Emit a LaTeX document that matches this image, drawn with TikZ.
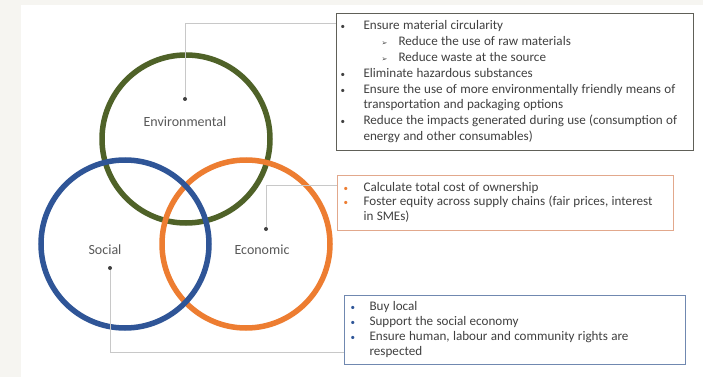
\documentclass[tikz,border=0pt]{standalone}
\usepackage{fontspec}
\setmainfont{Carlito}
\newfontfamily\symfont{DejaVu Sans}
\definecolor{envgreen}{HTML}{4F6228}
\definecolor{socblue}{HTML}{2F5597}
\definecolor{ecoorange}{HTML}{ED7D31}
\definecolor{bgframe}{HTML}{F6F5F1}
\definecolor{txtgray}{HTML}{404040}
\definecolor{lblgray}{HTML}{595959}
\definecolor{envborder}{HTML}{606058}
\definecolor{ecoborder}{HTML}{E2A88C}
\definecolor{socborder}{HTML}{7088B0}
\definecolor{connline}{HTML}{C8C8C8}
\newcommand{\bulitem}[2]{\noindent\hangindent=#2\hangafter=1\makebox[#2][l]{\textcolor{#1}{\fontsize{9}{9}\selectfont\textbullet}}\strut}
\newcommand{\subbul}{\noindent\hspace*{41pt}\makebox[17pt][l]{\textcolor{txtgray}{\symfont\fontsize{7}{7}\selectfont ➢}}\strut}
\begin{document}
\begin{tikzpicture}[x=1pt,y=-1pt,
  ring/.style={circle,line width=5.5pt,minimum size=168pt,inner sep=0pt},
  lbl/.style={text=lblgray,font=\fontsize{14}{16}\selectfont,inner sep=0pt},
  listbox/.style={rectangle,line width=1.1pt,anchor=north west,align=left,text=txtgray,inner ysep=2pt},
  conn/.style={draw=connline,line width=1pt},
  dot/.style={circle,fill=txtgray,inner sep=0pt,minimum size=4pt}]
\useasboundingbox (0,0) rectangle (703,377);
\fill[bgframe] (0,0) rectangle (703,377);
\fill[white] (21,5) rectangle (703,377);
% circles
\node[ring,draw=envgreen] (envc) at (186,139) {};
\node[ring,draw=ecoorange] (ecoc) at (246,244) {};
\node[ring,draw=socblue] (socc) at (125,244) {};
% labels
\node[lbl] (envlbl) at (185,122) {Environmental};
\node[lbl] (soclbl) at (105,250) {Social};
\node[lbl] (ecolbl) at (262,250) {Economic};
% boxes
\node[listbox,draw=envborder,inner xsep=4pt,text width=349pt,minimum width=357pt,minimum height=137pt] (envbox) at (336,13) {%
\fontsize{13.1}{15.8}\selectfont
\bulitem{txtgray}{23pt}Ensure material circularity\par
\subbul Reduce the use of raw materials\par
\subbul Reduce waste at the source\par
\bulitem{txtgray}{23pt}Eliminate hazardous substances\par
\bulitem{txtgray}{23pt}Ensure the use of more environmentally friendly means of\newline\strut transportation and packaging options\par
\bulitem{txtgray}{23pt}Reduce the impacts generated during use (consumption of\newline\strut energy and other consumables)\par};
\node[listbox,draw=ecoborder,inner xsep=6pt,text width=324pt,minimum width=336pt,minimum height=55pt] (ecobox) at (337,175) {%
\fontsize{13.1}{14.6}\selectfont
\bulitem{ecoorange}{20pt}Calculate total cost of ownership\par
\bulitem{ecoorange}{20pt}Foster equity across supply chains (fair prices, interest\newline\strut in SMEs)\par};
\node[listbox,draw=socborder,inner xsep=6pt,text width=329pt,minimum width=341pt,minimum height=69pt] (socbox) at (344,295) {%
\fontsize{13.1}{15.2}\selectfont
\bulitem{socblue}{19pt}Buy local\par
\bulitem{socblue}{19pt}Support the social economy\par
\bulitem{socblue}{19pt}Ensure human, labour and community rights are\newline\strut respected\par};
% connectors
\node[dot] (envdot) at (185,99) {};
\node[dot] (ecodot) at (266,229) {};
\node[dot] (socdot) at (110,268) {};
\draw[conn] (envdot) |- ([yshift=-11pt]envbox.north west);
\draw[conn] (ecodot) |- ([yshift=-10pt]ecobox.north west);
\draw[conn] (socdot) |- ([yshift=13pt]socbox.south west);
\end{tikzpicture}
\end{document}
